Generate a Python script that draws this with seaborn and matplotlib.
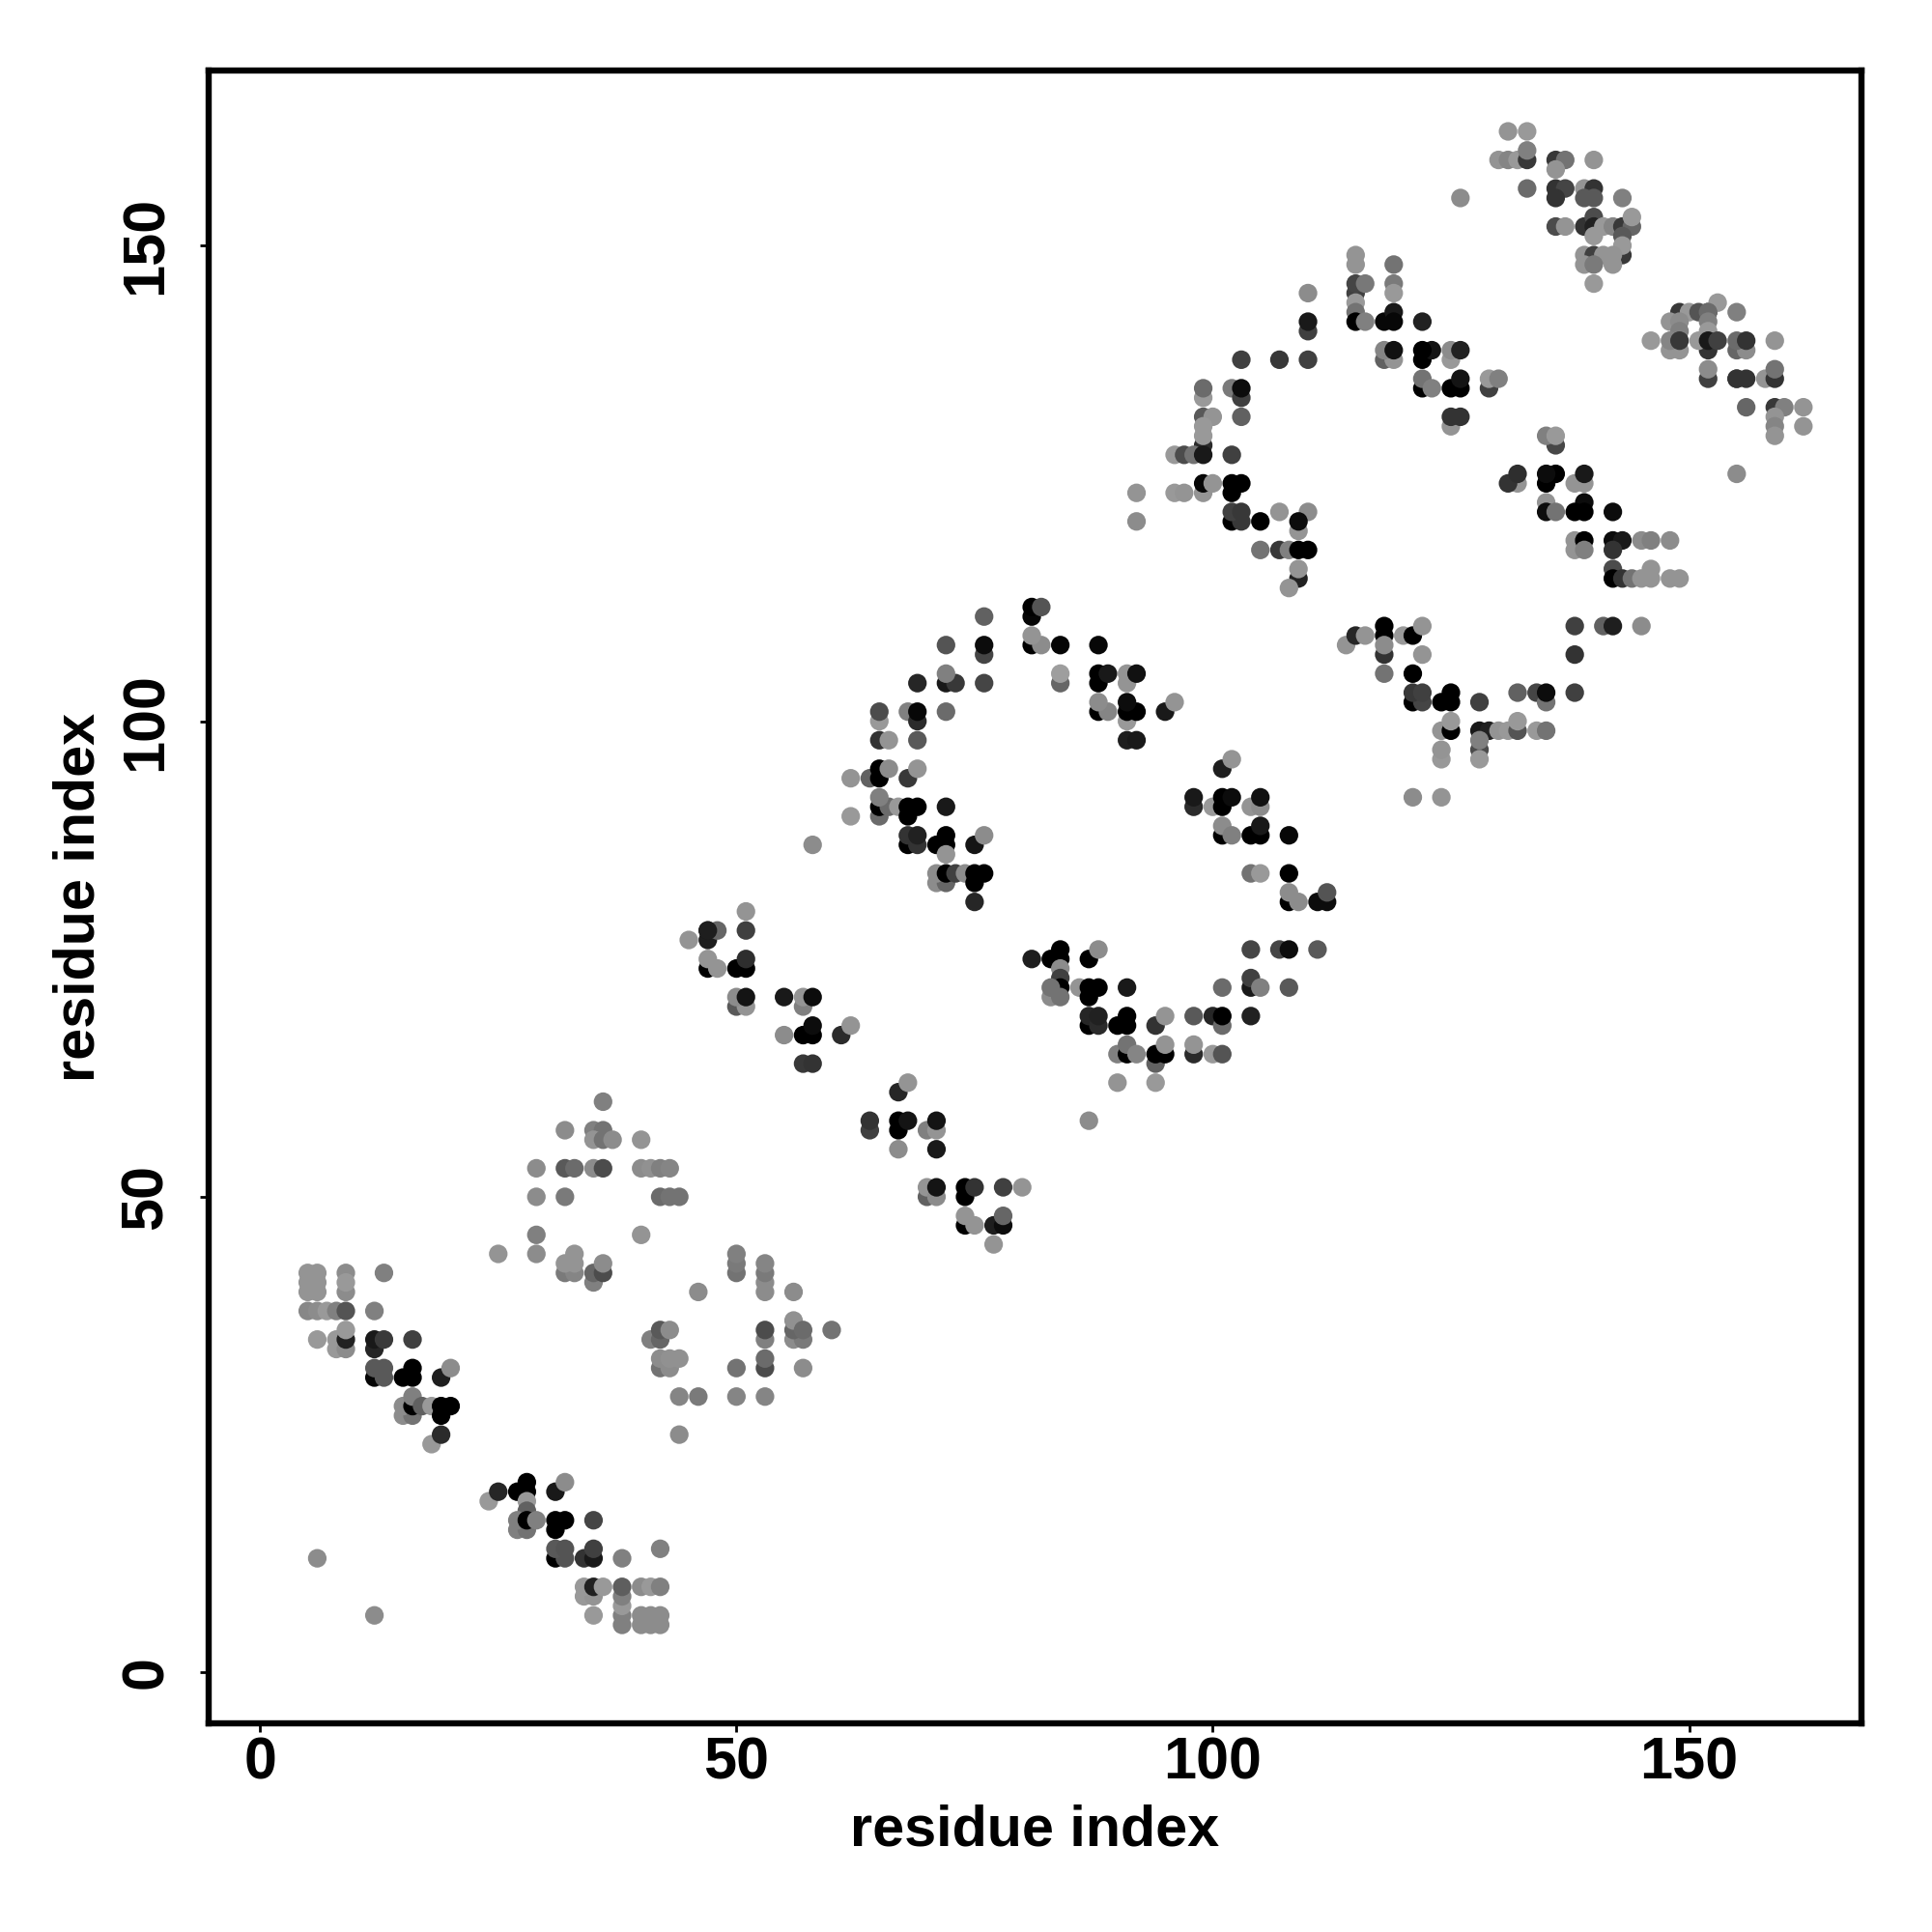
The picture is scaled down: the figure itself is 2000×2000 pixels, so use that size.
"""Residue contact map, gray level is contact strength (0 black, 0.6 light)"""
import matplotlib
matplotlib.use("Agg")
import matplotlib.pyplot as plt
import seaborn as sns
import pandas as pd

# lower left, 5-20 / 24-42
x_a = [5,6,5,6,5,6,9,9,9,13, 5,6,7,8,9,12, 6,8,8,9,9,9, 12,12,13,16, 12,13,12,13, 15,16,16,19,20, 15,16,15,16,16,17,18,19,19,20, 18,19]
y_a = [42,42,41,41,40,40,40,42,41,42, 38,38,38,38,38,38, 35,35,34,34,35,36, 34,35,35,35, 31,31,32,32, 31,31,32,31,32, 27,27,28,28,29,28,28,27,28,28, 24,25]
g_a = [.58,.58,.58,.58,.58,.58,.55,.55,.6,.5, .53,.55,.6,.5,.33,.5, .6,.6,.6,.55,.13,.6, .15,.1,.23,.25, .02,.35,.35,.35, 0,0,0,.12,.55, .55,.45,.55,0,.5,.38,.6,0,0,0, .6,.17]

# lower left, 24-42 / 5-20
x_b = [24,25,27,28,28,28,28,31,32, 27,28,27,28,29, 31,31,32,35, 31,32,31,32,34,35,35,38,42, 34,35,34,35,36, 38,38,38,38,38,40,41,42, 40,41,42,40,41,42,35,12,6]
y_b = [18,19,19,19,20,18,17,19,20, 15,15,16,16,16, 15,16,16,16, 12,12,13,13,12,12,13,12,13, 8,8,9,9,9, 5,6,7,8,9,9,9,9, 5,5,5,6,6,6,6,6,12]
g_b = [.6,.15,0,0,0,.6,.38,.1,.55, .5,.45,.5,0,.5, 0,0,0,.27, 0,.33,.35,.33,.2,.1,.25,.5,.5, .6,.58,.6,.13,.6, .5,.5,.6,.5,.37,.55,.6,.5, .55,.55,.55,.55,.55,.55,.6,.55,.55]

# pale block 25-44 / 41-60
x_c = [36, 32,35,36,35,36,37,40, 29,32,33,35,36,40,41,42,43, 29,32,42,43,44, 29,40, 25,29,33, 32,33, 32,33, 35,35,36,36]
y_c = [60, 57,57,57,56,56,56,56, 53,53,53,53,53,53,53,53,53, 50,50,50,50,50, 46,46, 44,44,44, 42,42, 43,43, 41,42,42,43]
g_c = [.5, .55,.5,.45,.58,.45,.55,.58, .55,.35,.42,.55,.3,.55,.57,.5,.52, .55,.48,.42,.45,.45, .5,.58, .58,.55,.58, .48,.52, .58,.58, .5,.4,.3,.55]

# pale block 41-60 / 25-44
x_d = [50,50,50, 53,53,53,53, 46,56, 53,53,56,57,56,56,57,60, 41,42,42,43, 42,43,42,43,44, 53,53,50,57, 44,46,50,53, 44]
y_d = [42,43,44, 40,41,42,43, 40,40, 35,36,35,35,36,37,36,36, 35,35,36,36, 32,32,33,33,33, 32,33,32,32, 29,29,29,29, 25]
g_d = [.45,.48,.5, .55,.55,.48,.52, .55,.55, .5,.3,.55,.48,.4,.57,.42,.45, .5,.4,.35,.55, .45,.55,.55,.57,.57, .3,.42,.45,.55, .52,.48,.52,.52, .55]

# diagonal strip 45-80 / 45-80
x_e = [51,47,47,48,51,45,47, 47,50,51,51,47,48, 50,51,50,51,55,57,57,58, 55,57,58,58,61,62, 57,58,
       67,68, 64,64,67,67,68,70,71,71, 67,71, 70,70,71,71,74,74,75,78,80, 74,77,78,78,74,75,77]
y_e = [80,77,78,78,78,77,78, 74,74,74,75,75,74, 70,70,71,71,71,70,71,71, 67,67,67,68,67,68, 64,64,
       61,62, 57,58,57,58,58,57,57,58, 55,55, 50,51,50,51,50,51,51,51,51, 47,47,47,48,48,47,45]
g_e = [.58,.12,.1,.4,.25,.58,.12, 0,0,0,.18,.58,.58, .35,.58,.55,.08,.1,.5,.58,.05, .55,0,0,.05,.17,.58, .22,.2,
       .15,.58, .25,.2,0,0,.08,.5,.58,.08, .55,.1, .38,.58,.55,.08,0,0,.2,.25,.58, 0,.12,.05,.4,.58,.58,.58]

# ring 58-112 / 81-112, upper half
x_f = [76,81,81,82, 81,82,81,84,88, 72,76,76, 69,72,73,72,76, 84,84, 88,88,89, 91,91,92,
       88,89,88,91,91,92,91,95,96, 91,92,
       65,65,68,69,69,72, 65,66,69,
       62,64,65,65,66,68,69, 65,65,66,67,68,69,68,72,62,65,
       58, 68,69,68,69,71,72,72,72,75,76,
       71,72,71,72,73,74,75,76,75,75]
y_f = [111,111,112,112, 108,108,109,108,108, 108,107,108, 104,104,104,105,104, 104,105, 104,105,105, 104,105,105,
       101,101,102,100,101,101,102,101,102, 98,98,
       100,101,101,100,101,101, 98,98,98,
       94,94,94,95,95,94,95, 90,91,91,91,91,91,90,91,90,92,
       87, 87,87,88,88,87,87,88,86,87,88,
       83,83,84,84,84,84,83,84,84,81]
g_f = [.38,.02,0,.33, 0,.55,.58,.02,.03, .33,.27,.05, .15,.1,.22,.5,.27, .4,.62, 0,0,.1, .58,.58,.07,
       0,.52,.55,.6,0,0,.05,.1,.58, .12,.1,
       .6,.3,.5,.17,.03,.42, .2,.58,.35,
       .58,.38,0,0,.55,.22,.58, .42,0,.42,.6,0,0,0,.1,.6,.5,
       .55, 0,.2,.2,.13,0,0,0,.58,.08,.55,
       .55,.4,.55,0,.25,.55,0,0,0,.15]

# ring 81-112 / 58-96, lower half and right side
x_g = [101,102, 98,98,100,101,101,102,104,105,105, 101,101,102,104,105,105,108,
       104,105,108, 108,108,109,111,112,112, 104,107,108,111,
       81,83,84,84,84,84,84,83,83,84,87,88,
       86,87,88,87,91, 101,104,104,105,108,
       87,87,88,88,90,91,91,94,95, 98,100,101,101,104,
       90,91,91,92,94,94,95,95, 98,98,100,101, 90,94,87]
y_g = [95,96, 91,92,91,91,92,92,91,91,92, 88,89,88,88,88,89,88,
       84,84,84, 81,82,81,81,81,82, 76,76,76,76,
       75,75,75,76,74,73,72,71,72,71,75,76,
       72,71,72,72,72, 72,72,73,72,72,
       68,69,68,69,68,68,69,68,69, 69,69,68,69,69,
       65,65,66,65,64,65,65,66, 65,66,65,65, 62,62,58]
g_g = [.12,.58, .17,.1,.6,0,0,.05,.58,.55,.07, 0,.55,.5,0,0,.1,.03,
       .45,.6,0, 0,.55,.55,.05,.05,.33, .27,.27,.05,.35,
       .12,0,0,0,.55,.25,0,.55,.45,.45,0,.55,
       .58,0,0,0,.1, .42,.1,.25,.5,.35,
       0,.15,.17,.13,0,0,0,.2,.58, .35,.15,.42,0,.13,
       .5,0,.45,.52,.38,0,0,.58, .17,.58,.6,.33, .58,.6,.55]

# upper loop 92-110 / 114-145
x_h = [99,99,102,103,103, 99,100,103, 99,99,99, 96,97,98,99,102,
       96,97,99,92,99,100,102,102,103,
       102,103,102,103,105,107,109,110,109,92,
       105,107,108,109,110, 109,109,108,
       103,107,110,110,110,110]
y_h = [134,135,135,134,135, 132,132,132, 129,130,131, 128,128,128,128,128,
       124,124,124,124,125,125,124,125,125,
       121,121,122,122,121,122,120,122,121,121,
       118,118,118,118,118, 115,116,114,
       138,138,138,141,142,145]
g_h = [.6,.42,.48,.25,.05, .35,.58,.38, .17,.6,.6, .6,.3,.45,.1,.25,
       .6,.58,.58,.58,.03,.58,0,0,0,
       0,.22,.25,.22,0,.58,.58,.55,.05,.55,
       .45,.22,.5,0,0, .13,.58,.58,
       .25,.22,.25,.25,.1,.55]

# right band 114-145 / 92-110
x_i = [114,115,116, 118,118,118,118,118, 120,121,122,122,121, 121,122,121,122,124,125,125,128,
       132,134,135,135,138,138,138,141,142,145,
       124,125,125,128,129,130,131,132,132,134,135,
       128,128,128,124,124,121,124]
y_i = [108,109,109, 110,109,107,108,105, 109,109,110,107,105, 102,102,103,103,102,102,103,102,
       103,103,102,103,103,107,110,110,110,110,
       99,99,100,99,99,99,99,99,100,99,99,
       97,96,98,96,97,92,92]
g_i = [.58,.15,.58, 0,0,.2,.55,.45, .6,0,.58,.58,0, 0,.27,.22,.25,0,0,0,.25,
       .38,.27,.45,.05,.25,.2,.25,.38,.12,.55,
       .58,0,.6,.1,.13,.58,.6,.33,.6,.6,.45,
       .3,.6,.5,.6,.58,.55,.58]

# upper right, 113-130 / 130-149
x_j = [115,115,119, 115,115,116,119,119, 115,115,115,116,118,119,119,122,
       118,119,118,119,122,123,122,125,125,126,
       122,122,123,125,126,126, 125,125,126,129,129,130]
y_j = [149,148,148, 145,146,146,146,145, 144,143,142,142,142,143,142,142,
       138,138,139,139,138,139,139,138,139,139,
       135,136,135,135,135,136, 131,132,132,135,136,136]
g_j = [.58,.58,.45, .25,.27,.47,.48,.6, .6,.45,0,.5,.03,.1,.03,.13,
       .38,.58,.52,.07,0,.08,0,.6,.55,.13,
       0,.45,.5,0,0,.08, .58,.2,.2,.25,.6,.5]

# ladder 130-144 / 146-162 and 126-155
x_k = [131,133, 130,131,132,133,133, 136,137,136,140, 133,136,137,136,139,140,139,140,143,
       136,137,139,140,140,140,141,142,143,144,144,143, 143,143,139,140,141,142,139,140,142,140,126]
y_k = [162,162, 159,159,159,159,160, 159,159,158,159, 156,156,156,155,156,156,155,155,155,
       152,152,152,153,152,151,152,152,152,152,153,151, 149,150,149,149,149,149,148,148,148,146,155]
g_k = [.58,.6, .58,.52,.6,.22,.5, .22,.45,.58,.58, .42,.2,.27,.2,.58,.2,.35,.35,.5,
       .3,.58,.2,.3,.13,.6,.6,.52,.22,.4,.6,.35, .22,.6,.58,.25,.58,.58,.58,.48,.58,.6,.55]

# far right 131-162 / 125-144
x_l = [136,135,136, 132,131,132, 135,136,135,139,138,139,
       152,153,149,150,151,152,155,148,149,152,149,152,
       148,149,152,155,156,146,148,149,151,152,153,155,156,159,
       152,152,155,156,155,158,159,159, 156,159,160,162,159,159,159,162,155]
y_l = [129,130,130 ,125,125,126, 125,126,126,125,125,126,
       143,144,143,143,143,143,143,142,142,142,141,141,
       139,139,139,139,139,140,140,140,140,140,140,140,140,140,
       136,137,136,136,136,136,136,137, 133,133,133,133,132,131,130,131,126]
g_l = [.28,.5,.6, .58,.2,.18, 0,0,.05,.58,.58,.1,
       .22,.6,.22,.6,.33,.42,.5,.58,.55,.5,.5,.6,
       .58,.58,.2,.4,.55,.6,.52,.22,.6,.1,.25,.42,.2,.58,
       .25,.55,.2,.2,.2,.58,.2,.45, .4,.22,.5,.58,.58,.52,.58,.58,.55]

# band under the ladder 135-149 / 114-123
x_m = [135,135,136,139,138,139,142, 138,138,139,139,142,143,142,145,146,148,
       142,146,142,143,144,145,146,148,149]
y_m = [123,122,122,123,122,122,122, 119,118,119,118,119,119,118,119,119,119,
       116,116,115,115,115,115,115,115,115]
g_m = [.58,.05,.45,.05,0,0,.05, .58,.58,0,.5,.05,.1,.2,.55,.5,.55,
       .3,.58,0,.2,.45,.58,.58,.58,.58]

xs = x_a + x_b + x_c + x_d + x_e + x_f + x_g + x_h + x_i + x_j + x_k + x_l + x_m
ys = y_a + y_b + y_c + y_d + y_e + y_f + y_g + y_h + y_i + y_j + y_k + y_l + y_m
gs = g_a + g_b + g_c + g_d + g_e + g_f + g_g + g_h + g_i + g_j + g_k + g_l + g_m
contacts = pd.DataFrame({'x': xs, 'y': ys, 'gray': gs})

tick_vals = [0, 50, 100, 150]

sns.set_style("white")
plt.rcParams['font.family'] = ['Liberation Sans', 'DejaVu Sans']
plt.rcParams['font.weight'] = 'bold'
plt.rcParams['text.color'] = 'black'
plt.rcParams['axes.labelcolor'] = 'black'
plt.rcParams['xtick.color'] = 'black'
plt.rcParams['ytick.color'] = 'black'

fig = plt.figure(figsize=(10, 10), dpi=200)
ax = fig.add_axes([0.108, 0.108, 0.8555, 0.8555])

sns.scatterplot(data=contacts, x='x', y='y', hue='gray', palette='gray', hue_norm=(0, 1),
                s=48, linewidth=0, legend=False, ax=ax)

ax.set_xlim(-5.4, 168.1)
ax.set_ylim(-5.35, 168.4)
ax.set_xticks(tick_vals)
ax.set_yticks(tick_vals)
ax.tick_params(axis='both', which='major', bottom=True, left=True, length=3.2, width=1,
               labelsize=22, color='black')
ax.tick_params(axis='x', pad=1.5)
ax.tick_params(axis='y', pad=9.5)
plt.setp(ax.get_yticklabels(), rotation=90, va='center')
for spine in ax.spines.values():
    spine.set_linewidth(2.3)
    spine.set_color('black')

ax.set_xlabel('residue index', fontsize=21.4, fontweight='bold')
ax.set_ylabel('residue index', fontsize=21.4, fontweight='bold')
ax.xaxis.set_label_coords(0.5, -0.049)
ax.yaxis.set_label_coords(-0.0625, 0.5)

plt.savefig('out.png', dpi=200)
plt.close()
